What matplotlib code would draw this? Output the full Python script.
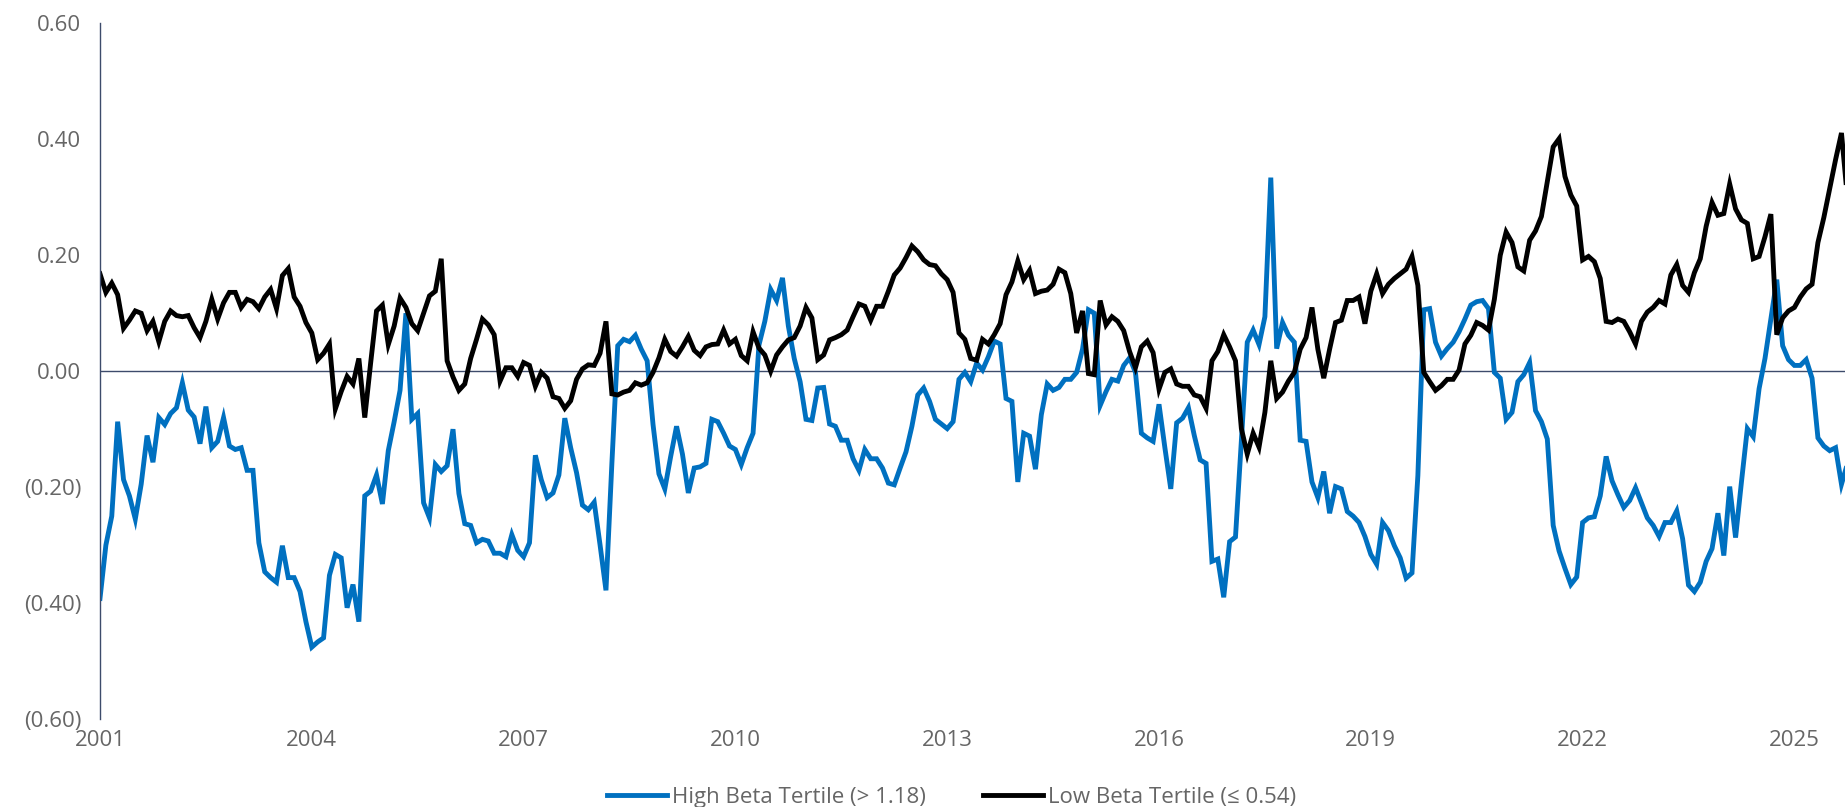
import numpy as np
import matplotlib as mpl
mpl.use('Agg')
import matplotlib.pyplot as plt
from matplotlib.ticker import FuncFormatter

plt.rcParams['font.family'] = ['Open Sans', 'DejaVu Sans']

# monthly values, Jan 2001 onwards
start_year = 2001
high_label = 'High Beta Tertile (> 1.18)'
low_label = 'Low Beta Tertile (\u2264 0.54)'

high_beta = [
	-0.392, -0.300, -0.250, -0.087, -0.187, -0.215, -0.255, -0.195, -0.111, -0.157, -0.080, -0.092,
	-0.073, -0.063, -0.020, -0.067, -0.079, -0.125, -0.061, -0.132, -0.121, -0.080, -0.129, -0.135,
	-0.132, -0.171, -0.171, -0.296, -0.346, -0.356, -0.364, -0.301, -0.356, -0.356, -0.380, -0.432,
	-0.476, -0.467, -0.460, -0.352, -0.316, -0.322, -0.408, -0.368, -0.432, -0.215, -0.207, -0.179,
	-0.229, -0.137, -0.087, -0.033, 0.100, -0.083, -0.073, -0.227, -0.253, -0.161, -0.173, -0.163,
	-0.100, -0.211, -0.263, -0.266, -0.296, -0.290, -0.293, -0.314, -0.314, -0.320, -0.282, -0.309,
	-0.320, -0.296, -0.145, -0.187, -0.218, -0.210, -0.179, -0.081, -0.132, -0.175, -0.231, -0.239,
	-0.226, -0.300, -0.378, -0.160, 0.044, 0.055, 0.051, 0.062, 0.038, 0.018, -0.092, -0.177,
	-0.203, -0.147, -0.095, -0.143, -0.210, -0.167, -0.165, -0.159, -0.083, -0.087, -0.107, -0.129,
	-0.135, -0.161, -0.132, -0.107, 0.045, 0.086, 0.141, 0.122, 0.161, 0.078, 0.022, -0.018,
	-0.083, -0.085, -0.029, -0.028, -0.091, -0.095, -0.119, -0.119, -0.151, -0.171, -0.135, -0.151,
	-0.151, -0.167, -0.193, -0.196, -0.167, -0.139, -0.095, -0.041, -0.029, -0.052, -0.083, -0.091,
	-0.099, -0.087, -0.014, -0.002, -0.018, 0.014, 0.002, 0.025, 0.052, 0.047, -0.047, -0.052,
	-0.191, -0.107, -0.112, -0.169, -0.075, -0.022, -0.033, -0.028, -0.014, -0.014, -0.002, 0.038,
	0.106, 0.100, -0.059, -0.035, -0.014, -0.017, 0.010, 0.023, -0.002, -0.107, -0.115, -0.121,
	-0.057, -0.132, -0.203, -0.089, -0.081, -0.063, -0.111, -0.153, -0.159, -0.328, -0.324, -0.390,
	-0.294, -0.286, -0.120, 0.050, 0.071, 0.046, 0.094, 0.334, 0.039, 0.084, 0.062, 0.050,
	-0.119, -0.121, -0.191, -0.218, -0.173, -0.245, -0.199, -0.203, -0.242, -0.250, -0.261, -0.285,
	-0.316, -0.333, -0.261, -0.275, -0.301, -0.322, -0.357, -0.348, -0.180, 0.106, 0.108, 0.050,
	0.026, 0.039, 0.050, 0.068, 0.090, 0.114, 0.120, 0.122, 0.108, -0.002, -0.012, -0.083,
	-0.071, -0.018, -0.006, 0.015, -0.068, -0.087, -0.117, -0.266, -0.310, -0.340, -0.368, -0.355,
	-0.261, -0.253, -0.251, -0.215, -0.147, -0.189, -0.213, -0.235, -0.223, -0.201, -0.227, -0.253,
	-0.266, -0.285, -0.261, -0.261, -0.241, -0.289, -0.369, -0.380, -0.364, -0.328, -0.306, -0.245,
	-0.318, -0.199, -0.287, -0.191, -0.099, -0.113, -0.030, 0.022, 0.090, 0.158, 0.044, 0.020,
	0.010, 0.010, 0.020, -0.012, -0.115, -0.129, -0.137, -0.132, -0.195, -0.160,
]

low_beta = [
	0.168, 0.136, 0.152, 0.132, 0.074, 0.088, 0.104, 0.100, 0.070, 0.086, 0.051, 0.086,
	0.104, 0.096, 0.094, 0.096, 0.075, 0.058, 0.086, 0.124, 0.090, 0.118, 0.136, 0.136,
	0.110, 0.124, 0.120, 0.108, 0.128, 0.141, 0.108, 0.165, 0.177, 0.128, 0.112, 0.084,
	0.066, 0.020, 0.031, 0.047, -0.065, -0.035, -0.009, -0.022, 0.022, -0.080, 0.014, 0.104,
	0.114, 0.046, 0.078, 0.126, 0.110, 0.082, 0.070, 0.100, 0.130, 0.138, 0.194, 0.018,
	-0.010, -0.033, -0.022, 0.022, 0.055, 0.090, 0.080, 0.063, -0.017, 0.006, 0.006, -0.009,
	0.015, 0.010, -0.026, -0.002, -0.012, -0.044, -0.047, -0.064, -0.051, -0.014, 0.004, 0.011,
	0.010, 0.031, 0.086, -0.039, -0.041, -0.036, -0.033, -0.020, -0.024, -0.020, -0.002, 0.023,
	0.055, 0.034, 0.026, 0.042, 0.060, 0.036, 0.027, 0.042, 0.046, 0.047, 0.071, 0.047,
	0.055, 0.027, 0.018, 0.068, 0.040, 0.028, 0.000, 0.028, 0.042, 0.054, 0.058, 0.078,
	0.110, 0.092, 0.020, 0.028, 0.054, 0.058, 0.063, 0.071, 0.094, 0.116, 0.112, 0.088,
	0.112, 0.112, 0.138, 0.166, 0.178, 0.196, 0.216, 0.206, 0.192, 0.184, 0.182, 0.168,
	0.158, 0.136, 0.066, 0.055, 0.022, 0.019, 0.055, 0.047, 0.063, 0.082, 0.132, 0.154,
	0.190, 0.158, 0.174, 0.134, 0.138, 0.140, 0.150, 0.176, 0.170, 0.134, 0.066, 0.104,
	-0.004, -0.006, 0.122, 0.080, 0.094, 0.086, 0.070, 0.034, 0.006, 0.042, 0.052, 0.032,
	-0.031, -0.002, 0.004, -0.022, -0.026, -0.026, -0.041, -0.044, -0.064, 0.018, 0.034, 0.063,
	0.042, 0.018, -0.099, -0.143, -0.107, -0.131, -0.071, 0.018, -0.047, -0.036, -0.017, -0.002,
	0.038, 0.058, 0.110, 0.038, -0.012, 0.038, 0.084, 0.088, 0.122, 0.122, 0.128, 0.082,
	0.138, 0.168, 0.134, 0.150, 0.160, 0.168, 0.176, 0.198, 0.148, -0.002, -0.018, -0.033,
	-0.025, -0.014, -0.014, 0.002, 0.047, 0.062, 0.084, 0.079, 0.071, 0.124, 0.200, 0.240,
	0.222, 0.180, 0.173, 0.226, 0.242, 0.267, 0.327, 0.387, 0.401, 0.336, 0.304, 0.285,
	0.192, 0.198, 0.189, 0.160, 0.086, 0.084, 0.090, 0.086, 0.068, 0.047, 0.086, 0.102,
	0.110, 0.122, 0.116, 0.166, 0.184, 0.148, 0.136, 0.170, 0.194, 0.250, 0.291, 0.269,
	0.272, 0.323, 0.280, 0.261, 0.255, 0.194, 0.198, 0.232, 0.271, 0.063, 0.092, 0.104,
	0.110, 0.128, 0.142, 0.150, 0.222, 0.265, 0.315, 0.365, 0.411, 0.300,
]

year_ticks = [2001, 2004, 2007, 2010, 2013, 2016, 2019, 2022, 2025]
value_ticks = [-0.6, -0.4, -0.2, 0.0, 0.2, 0.4, 0.6]


def fmt_paren(v, pos=None):
	if v < -1e-9:
		return '({:.2f})'.format(abs(v))
	return '{:.2f}'.format(abs(v))


blue = '#0070C0'
axis_col = '#3D4B6B'
text_col = '#666666'

months = np.arange(len(high_beta))
xs = start_year + months / 12.0

fig = plt.figure(figsize=(18.45, 8.07), dpi=100)
ax = fig.add_axes([0.0542, 0.109, 0.9458, 0.862])

ax.plot(xs, high_beta, color=blue, lw=3.5, label=high_label, solid_joinstyle='miter')
ax.plot(xs, low_beta, color='black', lw=3.5, label=low_label, solid_joinstyle='miter')
ax.axhline(0, color=axis_col, lw=1.0, zorder=0)

ax.set_xlim(start_year, start_year + 296.6 / 12.0)
ax.set_ylim(-0.6, 0.6)
ax.set_xticks(year_ticks)
ax.set_yticks(value_ticks)
ax.yaxis.set_major_formatter(FuncFormatter(fmt_paren))

for s in ['top', 'right', 'bottom']:
	ax.spines[s].set_visible(False)
ax.spines['left'].set_color(axis_col)
ax.spines['left'].set_linewidth(1.0)
ax.tick_params(axis='both', length=0, labelsize=16, colors=text_col)
ax.tick_params(axis='y', pad=13.5)
ax.tick_params(axis='x', pad=8)

leg = ax.legend(loc='lower center', bbox_to_anchor=(0.488, -0.156), ncol=2, frameon=False,
	fontsize=16, handlelength=2.7, handletextpad=0.2, columnspacing=2.6)
for t in leg.get_texts():
	t.set_color(text_col)

fig.savefig('out.png', dpi=100)
